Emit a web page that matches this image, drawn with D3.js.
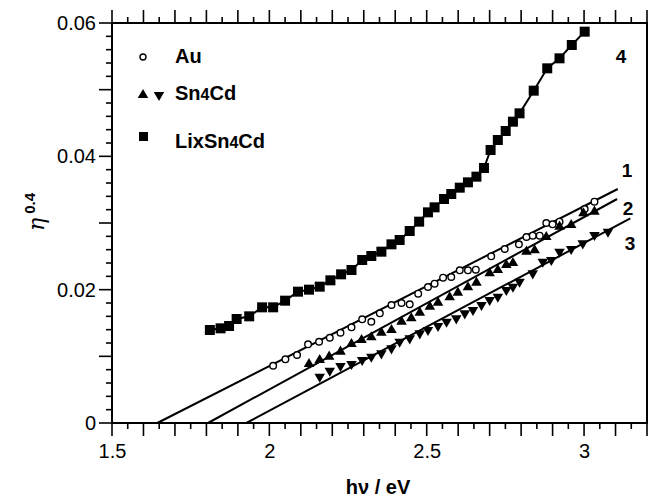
<!DOCTYPE html>
<html>
<head>
<meta charset="utf-8">
<script src="https://cdn.jsdelivr.net/npm/d3@7"></script>
<style>
  html, body { margin: 0; padding: 0; background: #fff; }
  svg { display: block; font-family: "Liberation Sans", Arial, sans-serif; }
</style>
</head>
<body>
<div id="chart"></div>
<script>
// Dữ liệu: hv (eV) và eta^0.4
const xTickLabels = [1.5, 2, 2.5, 3];
const yTickLabels = [0, 0.02, 0.04, 0.06];

// đường 4: LixSn4Cd (hình vuông nối liền)
const liHv  = [1.811, 1.845, 1.872, 1.896, 1.936, 1.977, 2.012, 2.050, 2.091, 2.126, 2.160, 2.194, 2.228, 2.261, 2.295, 2.324, 2.356, 2.388, 2.414, 2.446, 2.476, 2.504, 2.525, 2.555, 2.578, 2.605, 2.631, 2.658, 2.682, 2.703, 2.726, 2.751, 2.774, 2.795, 2.840, 2.883, 2.922, 2.961, 3.002];
const liEta = [0.01395, 0.0142, 0.01455, 0.0156, 0.0160, 0.01735, 0.01735, 0.01835, 0.0197, 0.0200, 0.02045, 0.0214, 0.0223, 0.02295, 0.02445, 0.02505, 0.0257, 0.0268, 0.02745, 0.0288, 0.0302, 0.0316, 0.03235, 0.0336, 0.03435, 0.0353, 0.0361, 0.03695, 0.03825, 0.04095, 0.04245, 0.0438, 0.0452, 0.04645, 0.04985, 0.0532, 0.0547, 0.0567, 0.0587];

// Au (vòng tròn rỗng)
const auHv  = [2.012, 2.051, 2.088, 2.123, 2.158, 2.192, 2.226, 2.261, 2.295, 2.324, 2.351, 2.388, 2.420, 2.446, 2.473, 2.504, 2.525, 2.552, 2.578, 2.605, 2.631, 2.656, 2.705, 2.748, 2.793, 2.817, 2.837, 2.859, 2.880, 2.900, 2.922, 3.002, 3.033];
const auEta = [0.00859, 0.00955, 0.0102, 0.0118, 0.01219, 0.01279, 0.01354, 0.01435, 0.01555, 0.01519, 0.01645, 0.0177, 0.0180, 0.0178, 0.0194, 0.0204, 0.0209, 0.0218, 0.0219, 0.0229, 0.0229, 0.0230, 0.0250, 0.0261, 0.0268, 0.0279, 0.0281, 0.0281, 0.0300, 0.0298, 0.0302, 0.0321, 0.0332];

// Sn4Cd tam giác lên
const upHv  = [2.126, 2.160, 2.190, 2.226, 2.261, 2.293, 2.324, 2.356, 2.388, 2.420, 2.451, 2.478, 2.510, 2.536, 2.573, 2.599, 2.631, 2.658, 2.700, 2.726, 2.753, 2.774, 2.817, 2.843, 2.880, 2.922, 2.959, 2.998, 3.033];
const upEta = [0.00885, 0.00945, 0.00995, 0.0107, 0.01185, 0.01245, 0.01285, 0.01355, 0.01395, 0.0152, 0.0157, 0.01655, 0.01745, 0.01805, 0.01885, 0.01955, 0.02035, 0.02105, 0.02245, 0.02295, 0.0237, 0.0240, 0.0257, 0.0259, 0.0279, 0.02945, 0.0297, 0.03145, 0.0317];

// Sn4Cd tam giác xuống
const downHv  = [2.160, 2.192, 2.226, 2.261, 2.295, 2.324, 2.356, 2.388, 2.414, 2.446, 2.478, 2.504, 2.536, 2.563, 2.594, 2.621, 2.647, 2.674, 2.700, 2.726, 2.753, 2.774, 2.795, 2.837, 2.869, 2.896, 2.922, 2.959, 2.996, 3.033, 3.076];
const downEta = [0.00694, 0.00785, 0.00855, 0.00885, 0.00945, 0.00995, 0.01045, 0.0112, 0.0122, 0.0127, 0.01345, 0.01395, 0.01455, 0.0152, 0.0157, 0.01645, 0.01695, 0.0177, 0.01845, 0.01895, 0.01995, 0.02045, 0.0212, 0.02245, 0.0242, 0.02445, 0.0257, 0.0261, 0.02695, 0.0282, 0.0287];

// các đường thẳng khớp 1, 2, 3 (điểm đầu, điểm cuối)
const fitNames = ['1', '2', '3'];
const fitHv  = [[1.644, 3.107], [1.805, 3.105], [1.927, 3.147]];
const fitEta = [[0, 0.0351], [0, 0.0336], [0, 0.0307]];

const width = 650, height = 499;
const margin = { left: 112, right: 3, top: 23, bottom: 76 };

const svg = d3.select('#chart').append('svg')
    .attr('width', width)
    .attr('height', height);

const x = d3.scaleLinear().domain([1.5, 3.2]).range([margin.left, width - margin.right]);
const y = d3.scaleLinear().domain([0, 0.06]).range([height - margin.bottom, margin.top]);

// tên trục
svg.append('text')
    .attr('x', 378)
    .attr('y', 494)
    .attr('text-anchor', 'middle')
    .attr('font-size', '20px')
    .attr('font-weight', 'bold')
    .text('hν / eV');

const yTitle = svg.append('text')
    .attr('transform', 'translate(44,212) rotate(-90)')
    .attr('text-anchor', 'middle')
    .attr('font-size', '22px');
yTitle.append('tspan').attr('font-style', 'italic').attr('font-family', '"DejaVu Serif", serif').text('η');
yTitle.append('tspan').attr('font-size', '15px').attr('font-weight', 'bold').attr('dx', 4).attr('dy', -9).text('0.4');

const plot = svg.append('g');

// đường khớp
fitNames.forEach((name, i) => {
    plot.append('line')
        .attr('x1', x(fitHv[i][0])).attr('y1', y(fitEta[i][0]))
        .attr('x2', x(fitHv[i][1])).attr('y2', y(fitEta[i][1]))
        .attr('stroke', '#000')
        .attr('stroke-width', 2);
});

// đường 4 nối các điểm
const liData = liHv.map((v, i) => [v, liEta[i]]);
plot.append('path')
    .datum(liData)
    .attr('fill', 'none')
    .attr('stroke', '#000')
    .attr('stroke-width', 2)
    .attr('d', d3.line().x(d => x(d[0])).y(d => y(d[1])));

plot.selectAll('.sq')
    .data(liData)
    .enter().append('rect')
    .attr('class', 'sq')
    .attr('x', d => x(d[0]) - 5)
    .attr('y', d => y(d[1]) - 5)
    .attr('width', 10)
    .attr('height', 10)
    .attr('fill', '#000');

// Au
plot.selectAll('.au')
    .data(auHv.map((v, i) => [v, auEta[i]]))
    .enter().append('circle')
    .attr('class', 'au')
    .attr('cx', d => x(d[0]))
    .attr('cy', d => y(d[1]))
    .attr('r', 3.3)
    .attr('fill', '#fff')
    .attr('stroke', '#000')
    .attr('stroke-width', 1.4);

const tri = d3.symbol().type(d3.symbolTriangle).size(48);

plot.selectAll('.up')
    .data(upHv.map((v, i) => [v, upEta[i]]))
    .enter().append('path')
    .attr('class', 'up')
    .attr('transform', d => `translate(${x(d[0])},${y(d[1])})`)
    .attr('d', tri)
    .attr('fill', '#000');

plot.selectAll('.down')
    .data(downHv.map((v, i) => [v, downEta[i]]))
    .enter().append('path')
    .attr('class', 'down')
    .attr('transform', d => `translate(${x(d[0])},${y(d[1])}) rotate(180)`)
    .attr('d', tri)
    .attr('fill', '#000');

// nhãn đường
const curveLabels = [
    { t: '4', x: 621, y: 63 },
    { t: '1', x: 627, y: 177 },
    { t: '2', x: 628, y: 215 },
    { t: '3', x: 630, y: 250 }
];
svg.selectAll('.clabel')
    .data(curveLabels)
    .enter().append('text')
    .attr('class', 'clabel')
    .attr('x', d => d.x)
    .attr('y', d => d.y)
    .attr('text-anchor', 'middle')
    .attr('font-size', '19px')
    .attr('font-weight', 'bold')
    .text(d => d.t);

// chú thích
const legend = svg.append('g');
legend.append('circle').attr('cx', 143).attr('cy', 57).attr('r', 3).attr('fill', '#fff').attr('stroke', '#000').attr('stroke-width', 1.4);
legend.append('path').attr('transform', 'translate(143,95)').attr('d', tri).attr('fill', '#000');
legend.append('path').attr('transform', 'translate(159,95) rotate(180)').attr('d', tri).attr('fill', '#000');
legend.append('rect').attr('x', 139).attr('y', 132).attr('width', 9).attr('height', 9).attr('fill', '#000');

// "4" trong Sn4Cd nhỏ hơn một chút
const legendText = [['Au', 63, []], ['Sn', 100, ['4', 'Cd']], ['LixSn', 148, ['4', 'Cd']]];
legendText.forEach(([main, yy, rest]) => {
    const t = legend.append('text')
        .attr('x', 175)
        .attr('y', yy)
        .attr('font-size', '20px')
        .attr('font-weight', 'bold');
    t.append('tspan').text(main);
    if (rest.length) {
        t.append('tspan').attr('font-size', '16px').text(rest[0]);
        t.append('tspan').text(rest[1]);
    }
});

// khung
svg.append('rect')
    .attr('x', x(1.5))
    .attr('y', y(0.06))
    .attr('width', x(3.2) - x(1.5))
    .attr('height', y(0) - y(0.06))
    .attr('fill', 'none')
    .attr('stroke', '#000')
    .attr('stroke-width', 2);

// Vạch chia: lớn (0.1 / 0.01) dài 13px, nhỏ (0.05 / 0.002) dài 6px
const xTicks = d3.range(0, 35).map(i => ({ v: +(1.5 + i * 0.05).toFixed(2), len: i % 2 === 0 ? 13 : 6 }));
const yTicks = d3.range(0, 31).map(i => ({ v: +(i * 0.002).toFixed(3), len: i % 5 === 0 ? 13 : 6 }));

const ticks = svg.append('g')
    .attr('stroke', '#000')
    .attr('stroke-width', 1.6);

[y(0), y(0.06)].forEach((y0, k) => {
    const dir = k === 0 ? 1 : -1;
    ticks.selectAll(null)
        .data(xTicks)
        .enter().append('line')
        .attr('x1', d => x(d.v)).attr('x2', d => x(d.v))
        .attr('y1', y0).attr('y2', d => y0 + dir * d.len);
});
ticks.selectAll(null)
    .data(yTicks)
    .enter().append('line')
    .attr('x1', x(1.5)).attr('x2', d => x(1.5) - d.len)
    .attr('y1', d => y(d.v)).attr('y2', d => y(d.v));

// nhãn số của trục dùng d3.axis (không vẽ vạch)
function clean(g) {
    g.select('.domain').remove();
    g.selectAll('.tick line').remove();
    g.selectAll('.tick text').attr('fill', '#000').attr('font-size', '20px');
}
svg.append('g')
    .attr('transform', `translate(0,${y(0)})`)
    .call(d3.axisBottom(x).tickValues(xTickLabels).tickFormat(d => String(d)).tickSize(0).tickPadding(21))
    .call(clean);
svg.append('g')
    .attr('transform', `translate(${x(1.5)},0)`)
    .call(d3.axisLeft(y).tickValues(yTickLabels).tickFormat(d => d === 0 ? '0' : d.toFixed(2)).tickSize(0).tickPadding(16))
    .call(clean);
</script>
</body>
</html>
